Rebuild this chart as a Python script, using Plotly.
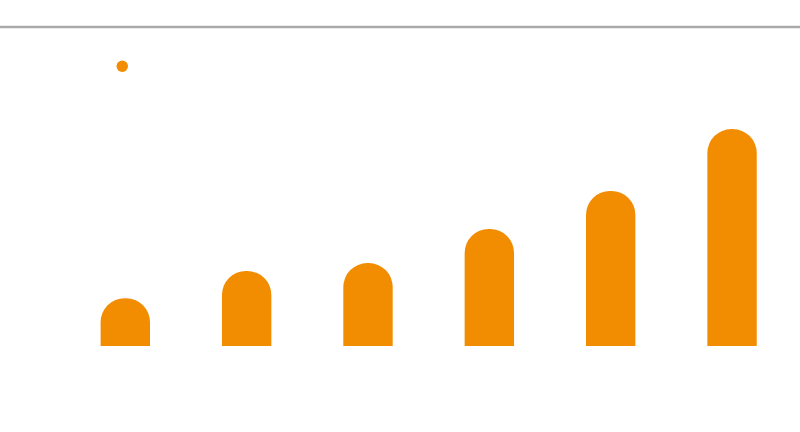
import plotly.graph_objects as go

categories = ["A", "B", "C", "D", "E", "F"]
values = [15.0, 23.5, 26.0, 36.7, 48.6, 68.0]
legend_name = " "

ORANGE = "#F28C00"

fig = go.Figure()
fig.add_trace(go.Bar(
    x=list(range(len(categories))), y=values,
    marker=dict(color=ORANGE, line=dict(width=0)),
    showlegend=False, hoverinfo="skip",
))
fig.add_trace(go.Scatter(
    x=[None], y=[None], mode="markers", name=legend_name,
    marker=dict(color=ORANGE, size=11.5), showlegend=True,
))

fig.update_layout(
    width=800, height=432,
    margin=dict(l=0, r=0, t=27, b=86),
    paper_bgcolor="white", plot_bgcolor="white",
    bargap=0.593, barcornerradius="50%",
    showlegend=True,
    legend=dict(x=0.1278, y=0.877, xanchor="left", yanchor="middle",
                bgcolor="rgba(0,0,0,0)", font=dict(size=12)),
    xaxis=dict(range=[-1.0326, 5.560], showgrid=False, zeroline=False,
               showticklabels=False, showline=False, fixedrange=True),
    yaxis=dict(range=[0, 100], showgrid=False, zeroline=False,
               showticklabels=False, showline=False, fixedrange=True),
    shapes=[dict(type="line", xref="paper", yref="paper", x0=0, x1=1, y0=1, y1=1,
                 line=dict(color="#aaaaaa", width=2.5))],
)

fig.write_html("out.html", config={"displayModeBar": False},
               post_script="document.body.style.margin='0';")
